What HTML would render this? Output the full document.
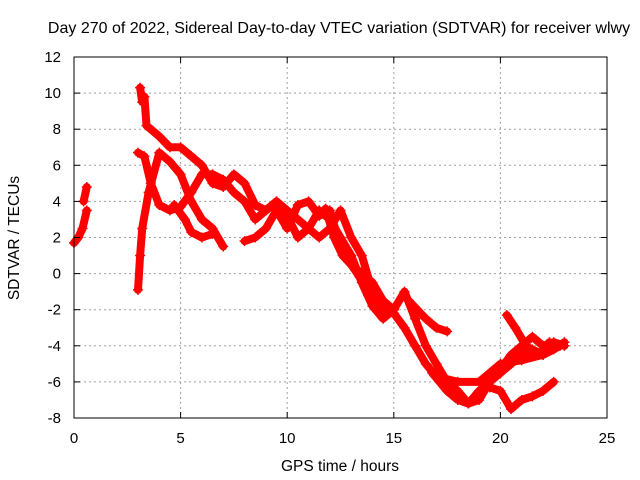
<!DOCTYPE html>
<html><head><meta charset="utf-8"><style>
body{margin:0;background:#fff}
svg{display:block;font-family:"Liberation Sans",sans-serif}
</style></head><body>
<svg id="chart" width="640" height="480">
<rect width="640" height="480" fill="#fff"/>
<text x="339" y="33" font-size="16" text-anchor="middle" fill="#000">Day 270 of 2022, Sidereal Day-to-day VTEC variation (SDTVAR) for receiver wlwy</text>
<text x="340" y="471" font-size="15.5" text-anchor="middle" fill="#000">GPS time / hours</text>
<text x="19" y="238" font-size="15.5" text-anchor="middle" fill="#000" transform="rotate(-90 19 238)">SDTVAR / TECUs</text>
<g id="grid"></g>
<g id="series"></g>
<g id="axes"></g>
</svg>
<script>
const xTicks=[0,5,10,15,20,25];
const yTicks=[-8,-6,-4,-2,0,2,4,6,8,10,12];
const track1=[[3.1,10.3],[3.2,9.5],[3.3,9.8],[3.4,8.2],[4,7.6],[4.5,7.0],[5,7.0],[5.5,6.5],[6,6.0],[6.5,5.0],[7,4.8],[7.5,5.5],[8,5.0],[8.5,3.8],[9,3.5],[9.5,4.0],[10,3.5],[10.5,3.0],[11,2.5],[11.5,2.0],[12,2.5],[12.5,3.5],[13,2.0],[13.5,1.0],[14,-1],[14.5,-2],[15,-2.2],[15.5,-3],[16,-4],[16.5,-5],[17,-5.7],[18,-6],[19,-6],[20,-5],[21,-4.8],[22,-4.5],[22.8,-4]];
const track2=[[3.0,6.7],[3.3,6.5],[3.6,5.0],[4,3.8],[4.5,3.5],[5,3.7],[5.5,4.5],[6,5.5],[6.5,5.5],[7,5.2],[7.5,4.5],[8,4.0],[8.5,3.0],[9,3.5],[9.5,4.0],[10,3.2],[10.5,2.0],[11,2.5],[11.5,3.5],[12,3.0],[12.5,2.0],[13,1.0],[13.5,-0.5],[14,-1.8],[14.5,-2.5],[15,-2.0],[15.5,-1.0],[16,-2.5],[16.5,-4],[17,-5],[17.5,-6],[18,-6.5],[18.5,-7.2],[19,-6.5],[19.5,-6.0],[20,-5.5],[20.5,-5.0],[21,-4.5],[21.5,-4.2],[22,-4.5],[22.5,-4.2],[23,-3.8]];
const track3=[[3.0,-0.9],[3.1,1.0],[3.2,2.5],[3.5,4.5],[4.0,6.7],[4.5,6.2],[5,5.5],[5.5,4.0],[6,3.0],[6.5,2.5],[7,1.5]];
const track4=[[4.7,3.8],[5.2,3.0],[5.5,2.3],[6,2.0],[6.5,2.2]];
const track5=[[8,1.8],[8.5,2.0],[9,2.5],[9.5,3.5],[10,2.5],[10.5,3.8],[11,4.0],[11.5,3.2],[12,3.5],[12.5,1.5],[13,0.5],[13.5,0],[14,-0.5],[14.5,-1.5],[15,-2]];
const track6=[[15.7,-1.5],[16.5,-2.5],[17,-3],[17.5,-3.2]];
const track7=[[16.8,-5.5],[17.5,-6.5],[18,-7],[18.5,-7.2],[19,-7.0],[19.5,-6.0],[20,-5.3],[20.5,-4.5],[21,-4],[21.5,-3.5],[22,-4],[22.5,-3.8],[23,-4]];
const track8=[[20.3,-2.3],[20.7,-3.0],[21.2,-4.0],[21.8,-4.5],[22.3,-3.8]];
const track9=[[19.5,-6.3],[20,-6.5],[20.5,-7.5],[21,-7],[21.5,-6.8],[22,-6.5],[22.5,-6.0]];
const track10=[[0,1.7],[0.2,2.0],[0.4,2.5],[0.6,3.5]];
const track11=[[0.45,4.0],[0.6,4.8]];
const track12=[[11.8,3.6],[12.2,2.0],[12.6,1.0],[13.0,0.5],[13.4,-0.2],[13.8,-1.2]];
const tracks=[track1,track2,track3,track4,track5,track6,track7,track8,track9,track10,track11,track12];

const X0=74,X1=607,Y0=418,Y1=57;
const xs=v=>X0+(v-0)/(25-0)*(X1-X0);
const ys=v=>Y0-(v+8)/(20)*(Y0-Y1);
const NS="http://www.w3.org/2000/svg";
const grid=document.getElementById('grid'),axes=document.getElementById('axes'),ser=document.getElementById('series');
function mk(tag,attrs,parent){const e=document.createElementNS(NS,tag);for(const k in attrs)e.setAttribute(k,attrs[k]);parent.appendChild(e);return e;}
xTicks.forEach(t=>{const x=xs(t);
 if(t>0&&t<25){const g=mk('line',{x1:x,x2:x,y1:Y1,y2:Y0,stroke:'#a0a0a0','stroke-dasharray':'2,3'},grid);}
 mk('line',{x1:x,x2:x,y1:Y0,y2:Y0-6,stroke:'#000'},axes);mk('line',{x1:x,x2:x,y1:Y1,y2:Y1+6,stroke:'#000'},axes);
 const l=mk('text',{x:x,y:Y0+25,'font-size':15,'text-anchor':'middle'},axes);l.textContent=t;
 });
yTicks.forEach(t=>{const y=ys(t);
 if(t>-8&&t<12){const g=mk('line',{x1:X0,x2:X1,y1:y,y2:y,stroke:'#a0a0a0','stroke-dasharray':'2,3'},grid);}
 mk('line',{x1:X0,x2:X0+6,y1:y,y2:y,stroke:'#000'},axes);mk('line',{x1:X1,x2:X1-6,y1:y,y2:y,stroke:'#000'},axes);
 const l=mk('text',{x:X0-13,y:y+5,'font-size':15,'text-anchor':'end'},axes);l.textContent=t;
 });
const frame=mk('rect',{x:X0,y:Y1,width:X1-X0,height:Y0-Y1,fill:'none',stroke:'#000'},axes);

tracks.forEach((tr,i)=>{
 const d=tr.map((p,j)=>(j?'L':'M')+xs(p[0]).toFixed(1)+','+ys(p[1]).toFixed(1)).join('');
 const path=mk('path',{d:d,fill:'none',stroke:'#f00','stroke-width':8,'stroke-linejoin':'round','stroke-linecap':'round'},ser);
 
 
 tr.forEach(p=>{const x=xs(p[0]),y=ys(p[1]);
  const m=mk('path',{d:`M${x-5},${y}H${x+5}M${x},${y-5}V${y+5}`,stroke:'#f00','stroke-width':1.5},ser);
  
  });
});
</script>
</body></html>
